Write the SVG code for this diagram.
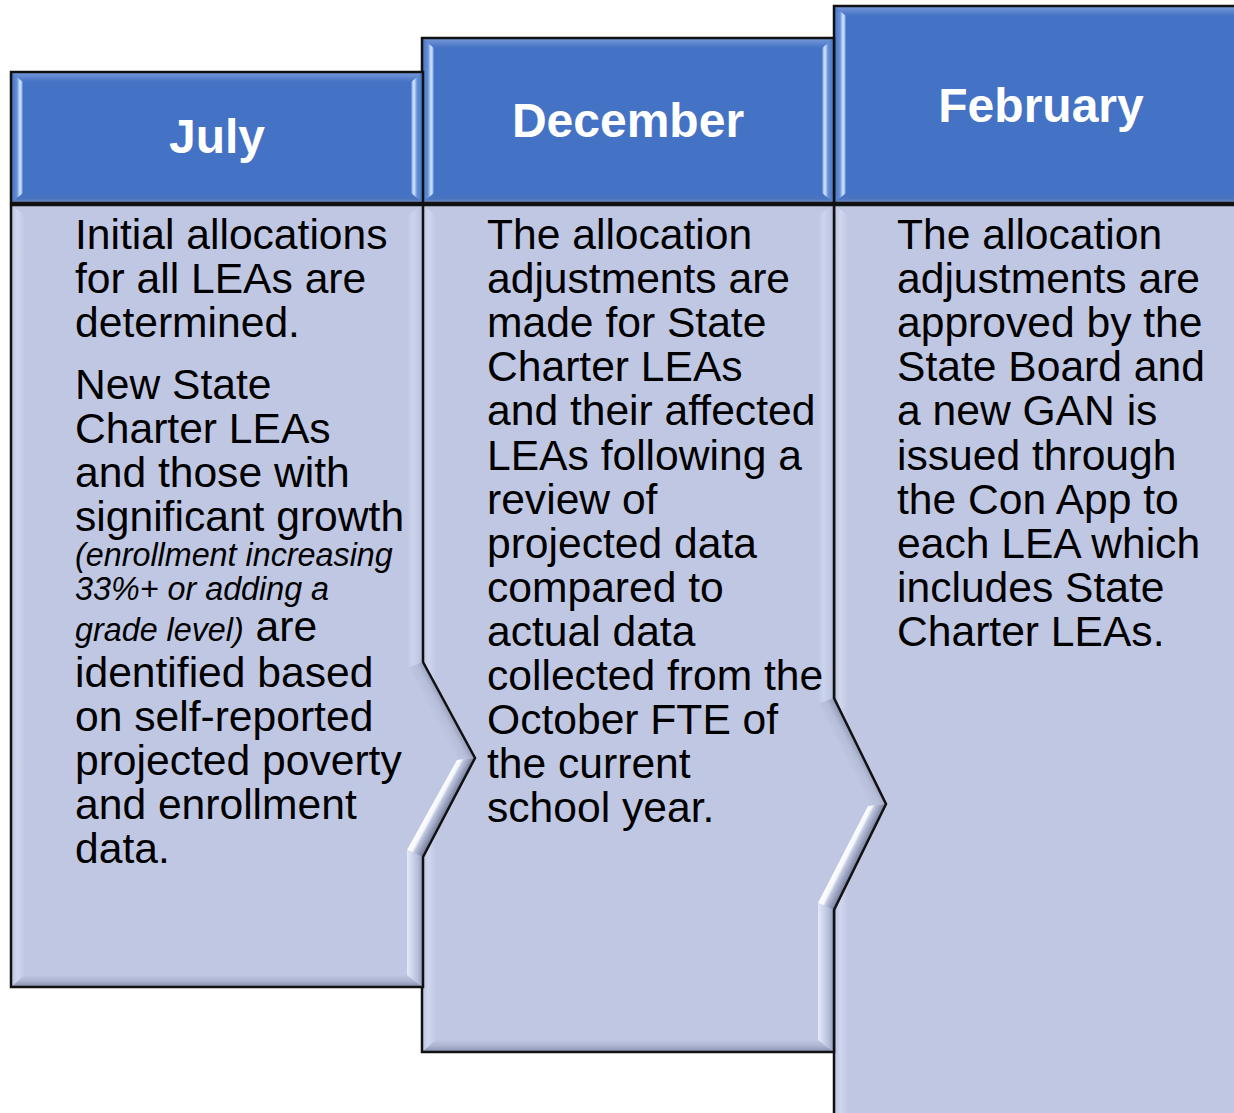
<svg xmlns="http://www.w3.org/2000/svg" width="1234" height="1113" viewBox="0 0 1234 1113">
<style>
.t{font-family:"Liberation Sans",Arial,sans-serif;font-size:42.6px;fill:#000}
.i{font-style:italic;font-size:32.3px}
.h{font-family:"Liberation Sans",Arial,sans-serif;font-weight:bold;font-size:48px;fill:#fff;text-anchor:middle}
.hdr{fill:#4472C4}
.body{fill:#C0C7E2}
.ol{fill:none;stroke:#111;stroke-width:2.5;stroke-linejoin:miter}
</style>
<defs>
<linearGradient id="hL" x1="0" y1="0" x2="1" y2="0"><stop offset="0" stop-color="#4472C4"/><stop offset="0.5" stop-color="#6690D6"/><stop offset="0.75" stop-color="#D4E6FF"/><stop offset="0.9" stop-color="#9DBEF0"/><stop offset="1" stop-color="#4472C4"/></linearGradient>
<linearGradient id="hR" x1="1" y1="0" x2="0" y2="0"><stop offset="0" stop-color="#4472C4"/><stop offset="0.5" stop-color="#6690D6"/><stop offset="0.75" stop-color="#D4E6FF"/><stop offset="0.9" stop-color="#9DBEF0"/><stop offset="1" stop-color="#4472C4"/></linearGradient>
<linearGradient id="hT" x1="0" y1="0" x2="0" y2="1"><stop offset="0" stop-color="#7A9BDB"/><stop offset="1" stop-color="#4472C4"/></linearGradient>
<linearGradient id="hB" x1="0" y1="0" x2="0" y2="1"><stop offset="0" stop-color="#4472C4"/><stop offset="0.6" stop-color="#4A74BE"/><stop offset="1" stop-color="#7D93BD"/></linearGradient>
<linearGradient id="bL" x1="0" y1="0" x2="1" y2="0"><stop offset="0" stop-color="#B9C0DC"/><stop offset="0.45" stop-color="#D0D7EF"/><stop offset="1" stop-color="#C0C7E2"/></linearGradient>
<linearGradient id="bB" x1="0" y1="0" x2="0" y2="1"><stop offset="0" stop-color="#C0C7E2"/><stop offset="0.5" stop-color="#ACB4D0"/><stop offset="1" stop-color="#858EAD"/></linearGradient>
<linearGradient id="bR" x1="0" y1="0" x2="1" y2="0"><stop offset="0" stop-color="#C0C7E2"/><stop offset="0.35" stop-color="#CCD3EC"/><stop offset="0.7" stop-color="#C3CAE4"/><stop offset="1" stop-color="#B2BAD6"/></linearGradient>
<linearGradient id="bRL" x1="0" y1="0" x2="1" y2="0"><stop offset="0" stop-color="#E6EAF7"/><stop offset="0.3" stop-color="#D0D6EE"/><stop offset="0.7" stop-color="#B4BCD7"/><stop offset="1" stop-color="#9098B6"/></linearGradient>
<linearGradient id="jU" gradientUnits="userSpaceOnUse" x1="432" y1="714" x2="447" y2="706"><stop offset="0" stop-color="#C0C7E2"/><stop offset="0.6" stop-color="#B6BDD8"/><stop offset="1" stop-color="#959DBA"/></linearGradient>
<linearGradient id="jD" gradientUnits="userSpaceOnUse" x1="432" y1="805" x2="445" y2="812"><stop offset="0" stop-color="#FFFFFF"/><stop offset="0.3" stop-color="#F4F6FC"/><stop offset="0.45" stop-color="#BFC6DF"/><stop offset="1" stop-color="#7C84A4"/></linearGradient>
<linearGradient id="dU" gradientUnits="userSpaceOnUse" x1="843" y1="755" x2="858" y2="747"><stop offset="0" stop-color="#C0C7E2"/><stop offset="0.6" stop-color="#B6BDD8"/><stop offset="1" stop-color="#959DBA"/></linearGradient>
<linearGradient id="dD" gradientUnits="userSpaceOnUse" x1="843" y1="854" x2="857" y2="861"><stop offset="0" stop-color="#FFFFFF"/><stop offset="0.3" stop-color="#F4F6FC"/><stop offset="0.45" stop-color="#BFC6DF"/><stop offset="1" stop-color="#7C84A4"/></linearGradient>
</defs>

<g id="connectors"></g>

<g id="february">
  <path class="body" d="M834,205 H1250 V1130 H834 Z"/>
  <polygon fill="url(#bL)" points="834,205 848,215 848,1130 834,1130"/>
  <path class="ol" d="M834,1130 V205 H1250"/>
  <rect class="hdr" x="834" y="6" width="414" height="197"/>
  <polygon fill="url(#hT)" points="834,6 1248,6 1236,16 846,16"/>
  <polygon fill="url(#hB)" points="834,203 1248,203 1236,193 846,193"/>
  <polygon fill="url(#hL)" points="834,6 846,16 846,193 834,203"/>
  <polygon fill="url(#hR)" points="1248,6 1236,16 1236,193 1248,203"/>
  <rect class="ol" x="834" y="6" width="414" height="197"/>
  <text class="h" x="1041" y="122">February</text>
  <text class="t" x="897" y="249">The allocation</text>
  <text class="t" x="897" y="293">adjustments are</text>
  <text class="t" x="897" y="337">approved by the</text>
  <text class="t" x="897" y="381">State Board and</text>
  <text class="t" x="897" y="425">a new GAN is</text>
  <text class="t" x="897" y="470">issued through</text>
  <text class="t" x="897" y="514">the Con App to</text>
  <text class="t" x="897" y="558">each LEA which</text>
  <text class="t" x="897" y="602">includes State</text>
  <text class="t" x="897" y="646">Charter LEAs.</text>
</g>

<g id="december">
  <path class="body" d="M422,205 H834 V698 L886,804 L834,910 V1052 H422 Z"/>
  <polygon fill="url(#bL)" points="422,205 436,215 436,1040 422,1052"/>
  <polygon fill="url(#bB)" points="422,1052 834,1052 818,1040 436,1040"/>
  <polygon fill="url(#bR)" points="818,215 834,205 834,698 818,704"/>
  <polygon fill="url(#dU)" points="834,698 886,804 868,806 818,704"/>
  <polygon fill="url(#dD)" points="886,804 834,910 818,903 868,806"/>
  <polygon fill="url(#bRL)" points="818,903 834,910 834,1052 818,1040"/>
  <path class="ol" d="M422,205 H834 V698 L886,804 L834,910 V1052 H422 Z"/>
  <rect class="hdr" x="422" y="38" width="412" height="165"/>
  <polygon fill="url(#hT)" points="422,38 834,38 822,48 434,48"/>
  <polygon fill="url(#hB)" points="422,203 834,203 822,193 434,193"/>
  <polygon fill="url(#hL)" points="422,38 434,48 434,193 422,203"/>
  <polygon fill="url(#hR)" points="834,38 822,48 822,193 834,203"/>
  <rect class="ol" x="422" y="38" width="412" height="165"/>
  <text class="h" x="628" y="137">December</text>
  <text class="t" x="487" y="249">The allocation</text>
  <text class="t" x="487" y="293">adjustments are</text>
  <text class="t" x="487" y="337">made for State</text>
  <text class="t" x="487" y="381">Charter LEAs</text>
  <text class="t" x="487" y="425">and their affected</text>
  <text class="t" x="487" y="470">LEAs following a</text>
  <text class="t" x="487" y="514">review of</text>
  <text class="t" x="487" y="558">projected data</text>
  <text class="t" x="487" y="602">compared to</text>
  <text class="t" x="487" y="646">actual data</text>
  <text class="t" x="487" y="690">collected from the</text>
  <text class="t" x="487" y="734">October FTE of</text>
  <text class="t" x="487" y="778">the current</text>
  <text class="t" x="487" y="822">school year.</text>
</g>

<g id="july">
  <path class="body" d="M11,205 H423 V662 L475,758 L423,857 V987 H11 Z"/>
  <polygon fill="url(#bL)" points="11,205 25,215 25,975 11,987"/>
  <polygon fill="url(#bB)" points="11,987 423,987 407,975 25,975"/>
  <polygon fill="url(#bR)" points="407,215 423,205 423,662 407,668"/>
  <polygon fill="url(#jU)" points="423,662 475,758 457,760 407,668"/>
  <polygon fill="url(#jD)" points="475,758 423,857 407,850 457,760"/>
  <polygon fill="url(#bRL)" points="407,850 423,857 423,987 407,975"/>
  <path class="ol" d="M11,205 H423 V662 L475,758 L423,857 V987 H11 Z"/>
  <rect class="hdr" x="11" y="72" width="412" height="131"/>
  <polygon fill="url(#hT)" points="11,72 423,72 411,82 23,82"/>
  <polygon fill="url(#hB)" points="11,203 423,203 411,193 23,193"/>
  <polygon fill="url(#hL)" points="11,72 23,82 23,193 11,203"/>
  <polygon fill="url(#hR)" points="423,72 411,82 411,193 423,203"/>
  <rect class="ol" x="11" y="72" width="412" height="131"/>
  <text class="h" x="217" y="153">July</text>
  <text class="t" x="75" y="249">Initial allocations</text>
  <text class="t" x="75" y="293">for all LEAs are</text>
  <text class="t" x="75" y="337">determined.</text>
  <text class="t" x="75" y="399">New State</text>
  <text class="t" x="75" y="443">Charter LEAs</text>
  <text class="t" x="75" y="487">and those with</text>
  <text class="t" x="75" y="531">significant growth</text>
  <text class="t i" x="75" y="566">(enrollment increasing</text>
  <text class="t i" x="75" y="600">33%+ or adding a</text>
  <text class="t" x="75" y="641"><tspan class="i">grade level)</tspan> are</text>
  <text class="t" x="75" y="687">identified based</text>
  <text class="t" x="75" y="731">on self-reported</text>
  <text class="t" x="75" y="775">projected poverty</text>
  <text class="t" x="75" y="819">and enrollment</text>
  <text class="t" x="75" y="863">data.</text>
</g>
</svg>
